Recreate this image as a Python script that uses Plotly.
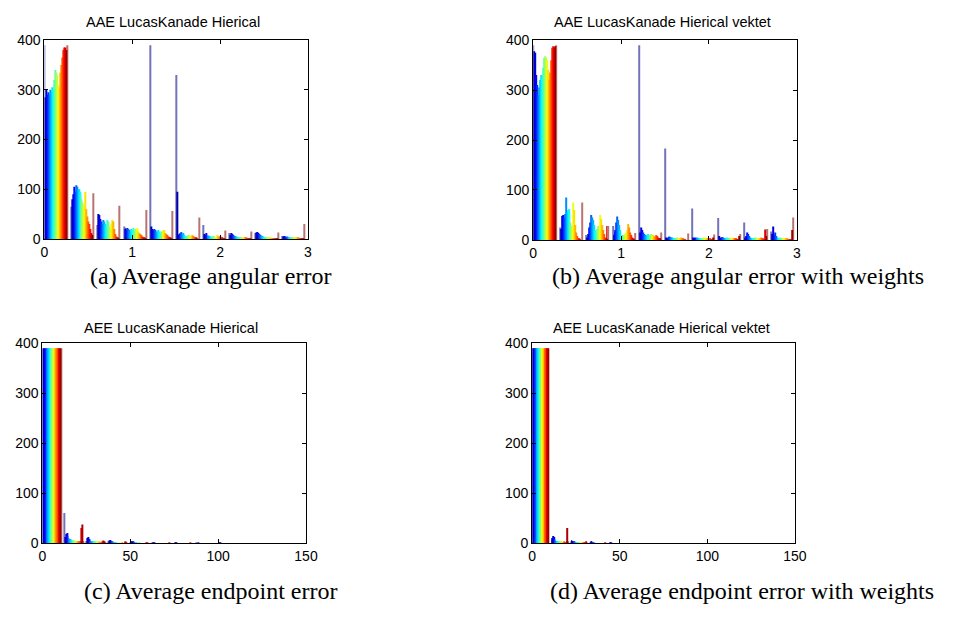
import plotly.graph_objects as go

W, H = 978, 626

# ---------------- data ----------------
# histogram bin centres (grouped bars per bin) and counts: one list per bin, 24 series per bin
aae_bins = [0.132, 0.432, 0.732, 1.032, 1.332, 1.632, 1.932, 2.232, 2.532, 2.832]
aae_counts = [
    [390, 285, 300, 290, 295, 290, 300, 295, 305, 300, 320, 340, 335, 330, 310, 305, 335, 350, 365, 380, 385, 385, 380, 390],
    [65, 80, 90, 105, 95, 108, 105, 100, 100, 95, 90, 80, 75, 70, 65, 95, 60, 45, 35, 30, 20, 12, 8, 92],
    [28, 50, 48, 40, 35, 30, 38, 35, 30, 25, 38, 35, 25, 20, 30, 38, 35, 20, 10, 5, 3, 2, 1, 67],
    [25, 20, 22, 18, 22, 20, 18, 15, 20, 18, 22, 15, 20, 18, 22, 15, 12, 10, 8, 5, 3, 2, 1, 58],
    [390, 25, 20, 18, 20, 18, 15, 15, 18, 15, 12, 15, 12, 18, 15, 18, 12, 10, 8, 5, 3, 2, 1, 56],
    [330, 95, 8, 10, 12, 14, 10, 12, 8, 6, 5, 6, 8, 8, 6, 5, 8, 6, 4, 3, 2, 1, 0, 43],
    [28, 10, 8, 12, 8, 6, 7, 6, 5, 5, 4, 6, 5, 4, 3, 8, 5, 4, 6, 3, 2, 1, 1, 17],
    [12, 8, 12, 10, 8, 6, 5, 5, 4, 4, 3, 3, 3, 2, 2, 3, 2, 2, 2, 1, 1, 1, 1, 15],
    [12, 13, 14, 12, 10, 8, 7, 6, 5, 4, 3, 3, 2, 2, 2, 2, 1, 1, 1, 1, 1, 1, 1, 13],
    [6, 5, 6, 5, 4, 5, 4, 3, 3, 3, 3, 3, 2, 2, 3, 2, 2, 2, 1, 1, 1, 1, 1, 30],
]

aae_w_bins = [0.132, 0.432, 0.732, 1.032, 1.332, 1.632, 1.932, 2.232, 2.532, 2.832]
aae_w_counts = [
    [390, 378, 375, 330, 310, 290, 305, 320, 330, 325, 345, 365, 368, 365, 360, 340, 320, 335, 360, 385, 388, 385, 388, 390],
    [25, 22, 48, 50, 45, 52, 85, 55, 60, 62, 50, 35, 28, 25, 75, 60, 30, 15, 8, 3, 2, 1, 0, 75],
    [10, 5, 12, 25, 35, 50, 45, 40, 30, 20, 15, 22, 28, 20, 50, 42, 30, 20, 12, 5, 2, 28, 1, 28],
    [28, 10, 15, 20, 35, 47, 40, 30, 20, 10, 10, 8, 10, 12, 15, 20, 32, 25, 15, 10, 5, 2, 1, 14],
    [390, 15, 25, 20, 15, 12, 10, 8, 10, 12, 8, 10, 12, 10, 8, 10, 8, 6, 10, 8, 5, 3, 2, 15],
    [183, 5, 3, 5, 7, 6, 5, 5, 4, 4, 3, 4, 5, 4, 3, 4, 5, 3, 2, 1, 1, 0, 0, 13],
    [63, 5, 4, 5, 4, 3, 5, 4, 3, 3, 3, 4, 3, 5, 4, 3, 2, 2, 3, 2, 1, 1, 5, 11],
    [44, 8, 5, 4, 6, 5, 4, 3, 3, 5, 4, 3, 4, 3, 2, 5, 3, 2, 3, 2, 1, 1, 8, 12],
    [35, 5, 8, 15, 12, 8, 5, 4, 3, 4, 3, 5, 3, 4, 3, 2, 3, 5, 2, 2, 1, 21, 8, 22],
    [17, 12, 27, 10, 15, 8, 5, 4, 3, 4, 5, 3, 2, 3, 2, 4, 2, 2, 1, 1, 1, 1, 20, 45],
]

aee_bins = [5.5, 18.0, 30.5, 43.0, 55.5, 68.0, 80.5, 93.0, 105.5]
aee_counts = [
    [388, 390, 390, 390, 390, 390, 390, 390, 390, 390, 390, 390, 390, 390, 390, 390, 390, 390, 390, 390, 390, 390, 390, 390],
    [60, 12, 18, 20, 14, 10, 8, 8, 6, 5, 5, 6, 5, 4, 4, 3, 4, 3, 2, 3, 2, 30, 37, 2],
    [4, 10, 12, 8, 6, 4, 3, 3, 2, 2, 2, 2, 1, 2, 1, 1, 2, 1, 1, 2, 4, 5, 2, 1],
    [2, 5, 6, 4, 3, 2, 1, 1, 1, 1, 0, 1, 0, 0, 1, 0, 0, 1, 0, 0, 1, 2, 1, 0],
    [1, 2, 3, 2, 1, 1, 0, 1, 0, 0, 0, 1, 0, 0, 0, 0, 0, 0, 0, 0, 1, 1, 0, 0],
    [1, 1, 1, 0, 0, 0, 0, 0, 0, 0, 0, 0, 0, 0, 0, 0, 0, 0, 0, 0, 0, 1, 0, 0],
    [0, 1, 1, 0, 0, 0, 0, 0, 0, 0, 0, 0, 0, 0, 0, 0, 0, 0, 0, 0, 1, 0, 0, 0],
    [1, 0, 1, 0, 0, 0, 0, 0, 0, 0, 0, 0, 0, 0, 0, 0, 0, 0, 0, 0, 0, 0, 0, 0],
    [0, 1, 1, 0, 0, 0, 0, 0, 0, 0, 0, 0, 0, 0, 0, 0, 0, 0, 0, 0, 0, 0, 0, 0],
]

aee_w_bins = [4.84, 15.84, 26.84, 37.84, 48.84]
aee_w_counts = [
    [390, 390, 390, 390, 390, 390, 390, 390, 390, 390, 390, 390, 390, 390, 390, 390, 390, 390, 390, 390, 390, 390, 390, 390],
    [6, 10, 14, 12, 8, 5, 4, 3, 3, 2, 3, 2, 2, 4, 2, 1, 1, 1, 2, 1, 1, 4, 30, 2],
    [3, 6, 4, 3, 2, 2, 1, 1, 1, 1, 1, 1, 1, 0, 1, 1, 0, 1, 0, 1, 1, 3, 1, 0],
    [1, 3, 2, 1, 1, 0, 1, 0, 0, 0, 0, 0, 0, 0, 0, 0, 0, 0, 0, 0, 0, 1, 0, 0],
    [0, 1, 1, 0, 0, 0, 0, 0, 0, 0, 0, 0, 0, 0, 0, 0, 0, 0, 0, 0, 0, 0, 0, 0],
]

titles = ["AAE LucasKanade Hierical", "AAE LucasKanade Hierical vektet",
          "AEE LucasKanade Hierical", "AEE LucasKanade Hierical vektet"]
captions = ["(a) Average angular error", "(b) Average angular error with weights",
            "(c) Average endpoint error", "(d) Average endpoint error with weights"]
top_xticks = [0, 1, 2, 3]
bottom_xticks = [0, 50, 100, 150]
yticks = [0, 100, 200, 300, 400]

# ---------------- styling ----------------
N = 24


def jet(t):
    def c(v):
        return max(0.0, min(1.0, v))
    r = c(1.5 - abs(4 * t - 3))
    g = c(1.5 - abs(4 * t - 2))
    b = c(1.5 - abs(4 * t - 1))
    return "rgb(%d,%d,%d)" % (round(r * 255), round(g * 255), round(b * 255))


colors = [jet(i / (N - 1)) for i in range(N)]


def px(x):
    return x / W


def py(y):
    return 1 - y / H


# axes boxes in pixels: (left, right, top, bottom)
boxes = [(41, 309, 33, 237), (538, 806, 33, 238), (39, 307, 344, 549), (537, 804, 344, 549)]
xranges = [[0, 3], [0, 3], [0, 150], [0, 150]]
xtick_sets = [top_xticks, top_xticks, bottom_xticks, bottom_xticks]
title_pos = [(172, 14), (669, 14), (170, 328), (668, 328)]
caption_pos = [(85, 275), (555, 275), (79, 598), (553, 598)]

fig = go.Figure()
panels = [(aae_bins, aae_counts), (aae_w_bins, aae_w_counts),
          (aee_bins, aee_counts), (aee_w_bins, aee_w_counts)]
for p, (bins, counts) in enumerate(panels):
    sfx = "" if p == 0 else str(p + 1)
    for j in range(N):
        edge = (j == 0 or j == N - 1)
        fig.add_trace(go.Bar(
            x=bins, y=[row[j] for row in counts],
            marker=dict(color=colors[j], line=dict(width=0), opacity=0.55 if edge else 1.0),
            xaxis="x" + sfx, yaxis="y" + sfx, showlegend=False,
            hoverinfo="skip"))

axis_common = dict(showline=True, linecolor="black", linewidth=1, mirror="ticks",
                   ticks="inside", ticklen=4, tickcolor="black", showgrid=False,
                   zeroline=False, tickfont=dict(family="Liberation Sans, Arial", size=14, color="black"))

layout = dict(width=W, height=H, margin=dict(l=0, r=0, t=0, b=0),
              paper_bgcolor="white", plot_bgcolor="white",
              barmode="group", bargap=0.12, bargroupgap=0, showlegend=False)

annotations = []
for p in range(4):
    sfx = "" if p == 0 else str(p + 1)
    l, r, t, b = boxes[p]
    layout["xaxis" + sfx] = dict(axis_common, domain=[px(l), px(r)], range=xranges[p],
                                 tickvals=xtick_sets[p], anchor="y" + sfx)
    layout["yaxis" + sfx] = dict(axis_common, domain=[py(b), py(t)], range=[0, 400],
                                 tickvals=yticks, anchor="x" + sfx)
    tx, ty = title_pos[p]
    annotations.append(dict(text=titles[p], x=px(tx), y=py(ty), xref="paper", yref="paper",
                            showarrow=False, xanchor="center", yanchor="middle",
                            font=dict(family="Liberation Sans, Arial", size=14.5, color="black")))
    cx, cy = caption_pos[p]
    annotations.append(dict(text=captions[p], x=px(cx), y=py(cy), xref="paper", yref="paper",
                            showarrow=False, xanchor="left", yanchor="middle",
                            font=dict(family="Liberation Serif, DejaVu Serif", size=24, color="black")))
layout["annotations"] = annotations

fig.update_layout(**layout)
fig.write_html("out.html")
